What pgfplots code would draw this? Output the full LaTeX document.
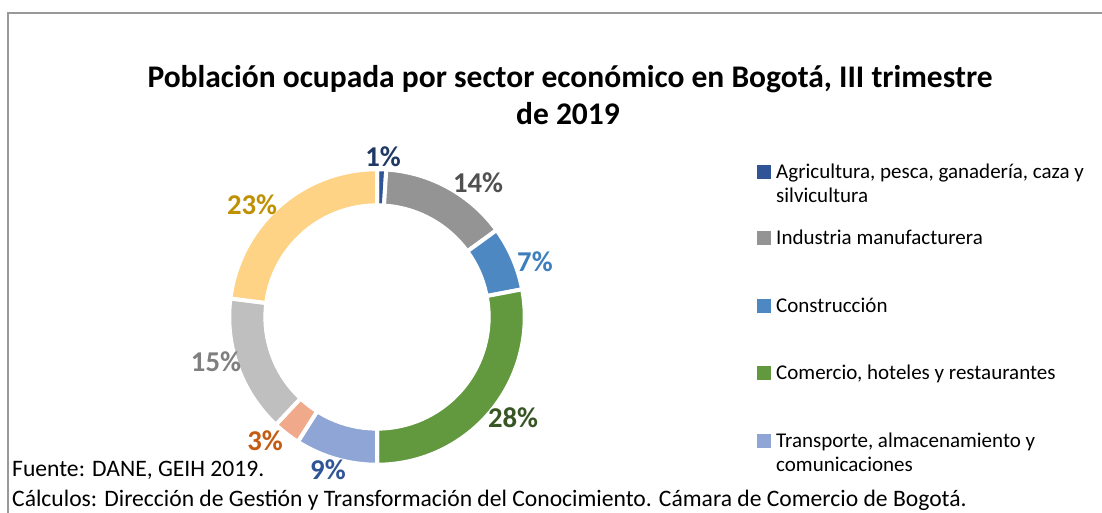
\documentclass[border=0pt]{standalone}
\usepackage{pgfplots}
\pgfplotsset{compat=1.18}
\usepackage{fontspec}
\setmainfont{Carlito}
\definecolor{cAgr}{HTML}{2F5597}
\definecolor{cInd}{HTML}{949494}
\definecolor{cCon}{HTML}{4E88C2}
\definecolor{cCom}{HTML}{62993E}
\definecolor{cTra}{HTML}{8FA5D6}
\definecolor{cSal}{HTML}{F1A98B}
\definecolor{cGry}{HTML}{BFBFBF}
\definecolor{cYel}{HTML}{FFD386}
\definecolor{tAgr}{HTML}{203864}
\definecolor{tInd}{HTML}{505050}
\definecolor{tCon}{HTML}{3D7EBD}
\definecolor{tCom}{HTML}{375623}
\definecolor{tTra}{HTML}{2F5597}
\definecolor{tSal}{HTML}{C55A11}
\definecolor{tGry}{HTML}{7F7F7F}
\definecolor{tYel}{HTML}{BF9000}
\begin{document}
\begin{tikzpicture}[x=1pt,y=1pt]
\path[use as bounding box] (0,0) rectangle (1102,513);
\draw[color=black!40, line width=1.2pt] (8,0) -- (8,500) -- (1102,500);
% title
\node[anchor=base, font=\fontsize{31.5}{37}\selectfont\bfseries] at (570,425) {Población ocupada por sector económico en Bogotá, III trimestre};
\node[anchor=base, font=\fontsize{31.5}{37}\selectfont\bfseries] at (568,388) {de 2019};
% donut
\begin{axis}[at={(377pt,196pt)}, anchor=center, scale only axis, width=350.4pt, height=350.4pt,
  xmin=-1.2, xmax=1.2, ymin=-1.2, ymax=1.2, hide axis, clip=false, no markers]
\def\cum{0}
\pgfplotsforeachungrouped \v/\c in {1/cAgr,14/cInd,7/cCon,28/cCom,9/cTra,3/cSal,15/cGry,23/cYel}{
  \pgfmathsetmacro{\a}{90-3.6*\cum}
  \pgfmathsetmacro{\b}{90-3.6*(\cum+\v)}
  \edef\temp{\noexpand\addplot[fill=\c, draw=white, line width=4pt, domain=\b:\a, samples=80] ({1.012*cos(x)},{1.012*sin(x)}) -- (axis cs:0,0) -- cycle;}
  \temp
  \pgfmathsetmacro{\cum}{\cum+\v}
}
\addplot[fill=white, draw=white, line width=1pt, domain=0:360, samples=120] ({0.775*cos(x)},{0.775*sin(x)}) -- cycle;
\tikzset{lab/.style={font=\fontsize{28.7}{34}\selectfont\bfseries}}
\node[lab, text=tAgr] at (axis cs:0.041,1.096) {1\%};
\node[lab, text=tInd] at (axis cs:0.692,0.918) {14\%};
\node[lab, text=tCon] at (axis cs:1.082,0.377) {7\%};
\node[lab, text=tCom] at (axis cs:0.932,-0.692) {28\%};
\node[lab, text=tTra] at (axis cs:-0.336,-1.048) {9\%};
\node[lab, text=tSal] at (axis cs:-0.767,-0.849) {3\%};
\node[lab, text=tGry] at (axis cs:-1.103,-0.308) {15\%};
\node[lab, text=tYel] at (axis cs:-0.856,0.767) {23\%};
\end{axis}
% legend
\tikzset{leg/.style={anchor=base west, font=\fontsize{21}{25}\selectfont, inner sep=0pt}}
\fill[cAgr] (757,333.5) rectangle +(14,14);
\node[leg] at (776,334.7) {Agricultura, pesca, ganadería, caza y};
\node[leg] at (776,310.3) {silvicultura};
\fill[cInd] (757,267.5) rectangle +(14,14);
\node[leg] at (776,268) {Industria manufacturera};
\fill[cCon] (757,200.2) rectangle +(14,14);
\node[leg] at (776,200.7) {Construcción};
\fill[cCom] (757,133.2) rectangle +(14,14);
\node[leg] at (776,133.7) {Comercio, hoteles y restaurantes};
\fill[cTra] (757,64.8) rectangle +(14,14);
\node[leg] at (776,65.3) {Transporte, almacenamiento y};
\node[leg] at (776,41.3) {comunicaciones};
% footnotes
\tikzset{foot/.style={anchor=base west, font=\fontsize{23.6}{28}\selectfont, inner sep=0pt}}
\node[foot] at (12,36.3) {Fuente: DANE, GEIH 2019.};
\node[foot] at (12,6.3) {Cálculos: Dirección de Gestión y Transformación del Conocimiento. Cámara de Comercio de Bogotá.};
\end{tikzpicture}
\end{document}
